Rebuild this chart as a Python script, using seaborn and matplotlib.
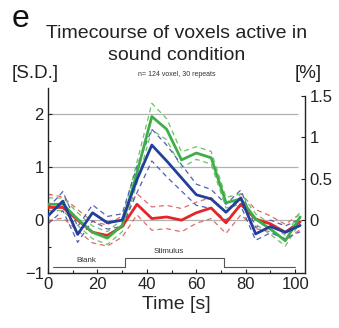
import numpy as np
import pandas as pd
import matplotlib
matplotlib.use("Agg")
import matplotlib.pyplot as plt
import seaborn as sns

# time axis (one volume every 6 s)
time_s = [0, 6, 12, 18, 24, 30, 36, 42, 48, 54, 60, 66, 72, 78, 84, 90, 96, 102]

# mean responses [S.D.]
green_mean = [0.30, 0.30, 0.02, -0.23, -0.34, -0.10, 0.90, 1.96, 1.72, 1.14, 1.27, 1.18, 0.33, 0.40, 0.02, -0.17, -0.39, 0.06]
blue_mean = [0.08, 0.36, -0.27, 0.14, -0.05, 0.00, 0.77, 1.42, 1.12, 0.80, 0.48, 0.40, 0.15, 0.42, -0.26, -0.12, -0.23, -0.10]
red_mean = [0.24, 0.24, 0.00, -0.23, -0.29, -0.12, 0.30, 0.03, 0.06, 0.00, 0.14, 0.23, -0.05, 0.30, 0.02, -0.07, -0.23, -0.03]

# half-width of the dashed bands
green_err = [0.12, 0.12, 0.12, 0.12, 0.12, 0.12, 0.20, 0.25, 0.20, 0.15, 0.12, 0.12, 0.10, 0.10, 0.10, 0.10, 0.10, 0.10]
blue_err = [0.15, 0.18, 0.15, 0.15, 0.12, 0.12, 0.25, 0.30, 0.30, 0.25, 0.20, 0.18, 0.15, 0.15, 0.12, 0.12, 0.12, 0.12]
red_err = [0.25, 0.20, 0.20, 0.20, 0.20, 0.20, 0.20, 0.22, 0.22, 0.22, 0.20, 0.20, 0.20, 0.20, 0.18, 0.15, 0.15, 0.15]

# blank / stimulus timing trace
stim_t = [2, 31, 31, 71, 71, 100]
stim_y = [-0.89, -0.89, -0.72, -0.72, -0.89, -0.89]

sns.set_style("ticks")
plt.rcParams["font.family"] = ["Liberation Sans", "DejaVu Sans"]

fig = plt.figure(figsize=(3.39, 3.28), dpi=100)
ax = fig.add_axes([0.1416, 0.1677, 0.7584, 0.564])

series = [
    ("red", red_mean, red_err, "#e3262a", "#e36a66"),
    ("green", green_mean, green_err, "#3fae49", "#6cc06f"),
    ("blue", blue_mean, blue_err, "#233f9c", "#4f63b0"),
]

ax.hlines([0, 1, 2], 0, 101, color="#b0b0b0", lw=0.9, zorder=0)

for name, mean, err, col, dcol in series:
    df = pd.DataFrame({"t": time_s, "m": mean, "e": err})
    df["hi"] = df["m"] + df["e"]
    df["lo"] = df["m"] - df["e"]
    for key in ("hi", "lo"):
        sns.lineplot(data=df, x="t", y=key, ax=ax, color=dcol, lw=0.9,
                     dashes=False, zorder=2)
        ax.lines[-1].set_dashes((4, 3))

for name, mean, err, col, dcol in series:
    df = pd.DataFrame({"t": time_s, "m": mean})
    sns.lineplot(data=df, x="t", y="m", ax=ax, color=col, lw=2.0, zorder=3)

ax.plot(stim_t, stim_y, color="#555555", lw=0.8, zorder=1)
ax.text(15.5, -0.83, "Blank", fontsize=5.8, ha="center", va="bottom", color="#333333")
ax.text(49, -0.66, "Stimulus", fontsize=5.8, ha="center", va="bottom", color="#333333")

ax.set_xlim(0, 104)
ax.set_ylim(-1, 2.5)
ax.set_xticks([0, 20, 40, 60, 80, 100])
ax.set_xticks([10, 30, 50, 70, 90], minor=True)
ax.set_yticks([-1, 0, 1, 2])
ax.set_yticks([-0.5, 0.5, 1.5], minor=True)
ax.tick_params(direction="in", labelsize=12, length=3, width=0.8, colors="#222222", pad=3)
ax.tick_params(which="minor", direction="in", length=2.5, width=0.8)
ax.set_xlabel("Time [s]", fontsize=14, labelpad=3)
ax.set_ylabel("")
for s in ("top", "right"):
    ax.spines[s].set_visible(False)
for s in ("left", "bottom"):
    ax.spines[s].set_linewidth(1.0)
    ax.spines[s].set_color("#222222")

ax2 = ax.twinx()
ax2.set_ylim(-1 / 1.57, 2.5 / 1.57)
ax2.set_yticks([0, 0.5, 1, 1.5])
ax2.set_yticklabels(["0", "0.5", "1", "1.5"])
ax2.tick_params(direction="in", labelsize=12, length=3, width=0.8, colors="#222222", pad=3)
for s in ("top", "left", "bottom"):
    ax2.spines[s].set_visible(False)
ax2.spines["right"].set_bounds(-1 / 1.57, 1.5)
ax2.spines["right"].set_linewidth(1.0)
ax2.spines["right"].set_color("#222222")

fig.text(0.033, 0.918, "e", fontsize=23, color="#111111", va="baseline")
fig.text(0.522, 0.884, "Timecourse of voxels active in", fontsize=14, ha="center", va="baseline", color="#222222")
fig.text(0.522, 0.817, "sound condition", fontsize=14, ha="center", va="baseline", color="#222222")
fig.text(0.035, 0.762, "[S.D.]", fontsize=13.5, va="baseline", color="#222222")
fig.text(0.868, 0.762, "[%]", fontsize=13.5, va="baseline", color="#222222")
fig.text(0.522, 0.768, "n= 124 voxel, 30 repeats", fontsize=5, ha="center", va="baseline", color="#333333")

fig.savefig("out.png", dpi=100)
